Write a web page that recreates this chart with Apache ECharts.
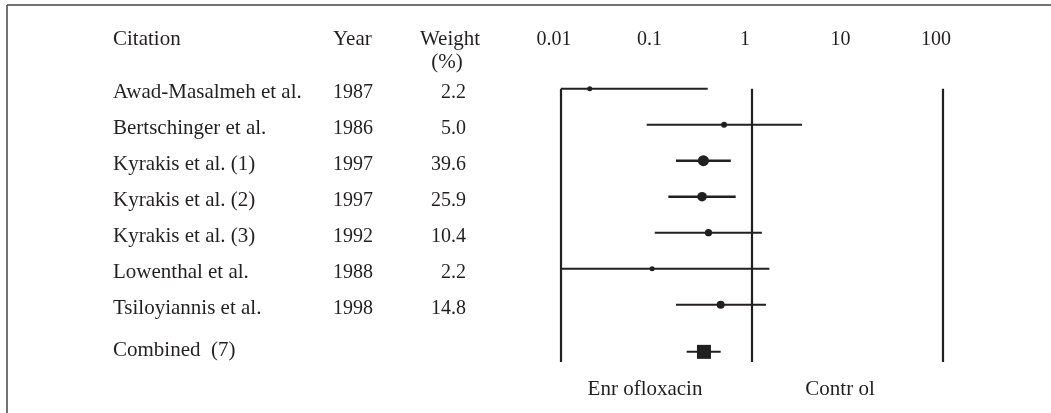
<!DOCTYPE html>
<html><head><meta charset="utf-8">
<script src="https://cdn.jsdelivr.net/npm/echarts@6/dist/echarts.min.js"></script>
<style>html,body{margin:0;padding:0;background:#fff}#c{width:1051px;height:413px}</style>
</head><body><div id="c"></div>
<script>
// ---- data ----
const citations = ['Awad-Masalmeh et al.', 'Bertschinger et al.', 'Kyrakis et al. (1)', 'Kyrakis et al. (2)', 'Kyrakis et al. (3)', 'Lowenthal et al.', 'Tsiloyiannis et al.'];
const years = [1987, 1986, 1997, 1997, 1992, 1988, 1998];
const weights = [2.2, 5.0, 39.6, 25.9, 10.4, 2.2, 14.8];
const estimates = [0.020, 0.51, 0.31, 0.30, 0.35, 0.090, 0.47];
const lowerCI = [0.01, 0.079, 0.16, 0.133, 0.096, 0.01, 0.16];
const upperCI = [0.344, 3.34, 0.60, 0.675, 1.27, 1.52, 1.40];
const combinedLabel = 'Combined  (7)';
const combinedEstimate = [0.314];
const combinedLower = [0.207];
const combinedUpper = [0.47];
const tickValues = [0.01, 0.1, 1, 10, 100];
const refLines = [0.01, 1, 100];
const headers = ['Citation', 'Year', 'Weight', '(%)'];
const sideLabels = ['Enr ofloxacin', 'Contr ol'];

// ---- layout ----
const INK = '#231f20';
const FONT = '"Liberation Serif", "DejaVu Serif", serif';
const FS_WORD = 21, FS_NUM = 20;
const rowPos = citations.map((_, i) => i + 1);
const combinedPos = 8.31;
const wordShift = 0.1, numShift = 0.12;
const refTop = 1, refBottom = 8.59;
const colCitation = 113, colYear = 333, colWeight = 466;

const cells = [];
citations.forEach((c, i) => {
  cells.push({ x: colCitation, y: rowPos[i] + wordShift, text: c, align: 'left', fs: FS_WORD });
  cells.push({ x: colYear, y: rowPos[i] + numShift, text: String(years[i]), align: 'left', fs: FS_NUM });
  cells.push({ x: colWeight, y: rowPos[i] + numShift, text: weights[i].toFixed(1), align: 'right', fs: FS_NUM });
});
cells.push({ x: colCitation, y: 8.27, text: combinedLabel, align: 'left', fs: FS_WORD });
const headerRow = -0.38, header2Row = 0.27;
cells.push({ x: colCitation, y: headerRow, text: headers[0], align: 'left', fs: FS_WORD });
cells.push({ x: colYear, y: headerRow, text: headers[1], align: 'left', fs: FS_WORD });
cells.push({ x: 450, y: headerRow, text: headers[2], align: 'center', fs: FS_WORD });
cells.push({ x: 447, y: header2Row, text: headers[3], align: 'center', fs: FS_WORD });

const chart = echarts.init(document.getElementById('c'), null, { renderer: 'canvas' });
const Y0 = 88.7, ROW = 36;
chart.setOption({
  animation: false,
  backgroundColor: '#fff',
  grid: [
    { left: 561, width: 382, top: Y0 - ROW, height: ROW * 9 },
    { left: 0, width: 1051, top: Y0 - 2 * ROW, height: ROW * 10 }
  ],
  xAxis: [
    {
      gridIndex: 0, type: 'log', logBase: 10, min: 0.01, max: 100, position: 'top',
      axisLine: { show: false }, axisTick: { show: false }, splitLine: { show: false },
      axisLabel: {
        show: true, color: INK, fontFamily: FONT, fontSize: FS_NUM, margin: 3,
        padding: [0, 14, 0, 0],
        formatter: v => { const r = Number(Number(v).toPrecision(6)); return tickValues.includes(r) ? String(r) : ''; }
      }
    },
    { gridIndex: 1, type: 'value', min: 0, max: 1051, show: false }
  ],
  yAxis: [
    { gridIndex: 0, type: 'value', min: 0, max: 9, inverse: true, show: false },
    { gridIndex: 1, type: 'value', min: -1, max: 9, inverse: true, show: false }
  ],
  series: [
    {
      type: 'custom', xAxisIndex: 0, yAxisIndex: 0, silent: true,
      data: refLines.map(v => [v, refTop, refBottom]),
      encode: { x: 0, y: [1, 2] },
      renderItem(params, api) {
        const a = api.coord([api.value(0), api.value(1)]);
        const b = api.coord([api.value(0), api.value(2)]);
        return { type: 'line', shape: { x1: a[0], y1: a[1], x2: b[0], y2: b[1] }, style: { stroke: INK, lineWidth: 2.2 } };
      }
    },
    {
      type: 'custom', xAxisIndex: 0, yAxisIndex: 0, silent: true,
      data: citations.map((_, i) => [lowerCI[i], upperCI[i], rowPos[i], weights[i]])
        .concat([[combinedLower[0], combinedUpper[0], combinedPos, 0]]),
      encode: { x: [0, 1], y: 2 },
      renderItem(params, api) {
        const a = api.coord([api.value(0), api.value(2)]);
        const b = api.coord([api.value(1), api.value(2)]);
        const w = api.value(3) > 20 ? 2.6 : 2;
        return { type: 'line', shape: { x1: a[0], y1: a[1], x2: b[0], y2: b[1] }, style: { stroke: INK, lineWidth: w } };
      }
    },
    {
      type: 'scatter', xAxisIndex: 0, yAxisIndex: 0, silent: true,
      symbol: 'circle',
      data: estimates.map((e, i) => [e, rowPos[i], weights[i]]),
      symbolSize: d => 3.2 + 1.25 * Math.sqrt(d[2]),
      itemStyle: { color: INK, opacity: 1 }
    },
    {
      type: 'scatter', xAxisIndex: 0, yAxisIndex: 0, silent: true,
      symbol: 'rect', symbolSize: 14,
      data: [[combinedEstimate[0], combinedPos]],
      itemStyle: { color: INK, opacity: 1 }
    },
    {
      type: 'custom', xAxisIndex: 1, yAxisIndex: 1, silent: true,
      data: cells.map((c, i) => [c.x, c.y, i]),
      encode: { x: 0, y: 1 },
      renderItem(params, api) {
        const c = cells[api.value(2)];
        const p = api.coord([api.value(0), api.value(1)]);
        return {
          type: 'text', x: p[0], y: p[1],
          style: { text: c.text, fill: INK, font: c.fs + 'px ' + FONT, align: c.align, verticalAlign: 'middle', textAlign: c.align, textVerticalAlign: 'middle' }
        };
      }
    }
  ],
  graphic: [
    { type: 'line', shape: { x1: 7, y1: 5, x2: 1051, y2: 5 }, style: { stroke: '#444', lineWidth: 1.5 } },
    { type: 'line', shape: { x1: 7, y1: 5, x2: 7, y2: 413 }, style: { stroke: '#444', lineWidth: 1.5 } },
    { type: 'text', x: 645, y: 389, style: { text: sideLabels[0], fill: INK, font: FS_WORD + 'px ' + FONT, textAlign: 'center', textVerticalAlign: 'middle' } },
    { type: 'text', x: 840, y: 389, style: { text: sideLabels[1], fill: INK, font: FS_WORD + 'px ' + FONT, textAlign: 'center', textVerticalAlign: 'middle' } }
  ]
});
</script>
</body></html>
